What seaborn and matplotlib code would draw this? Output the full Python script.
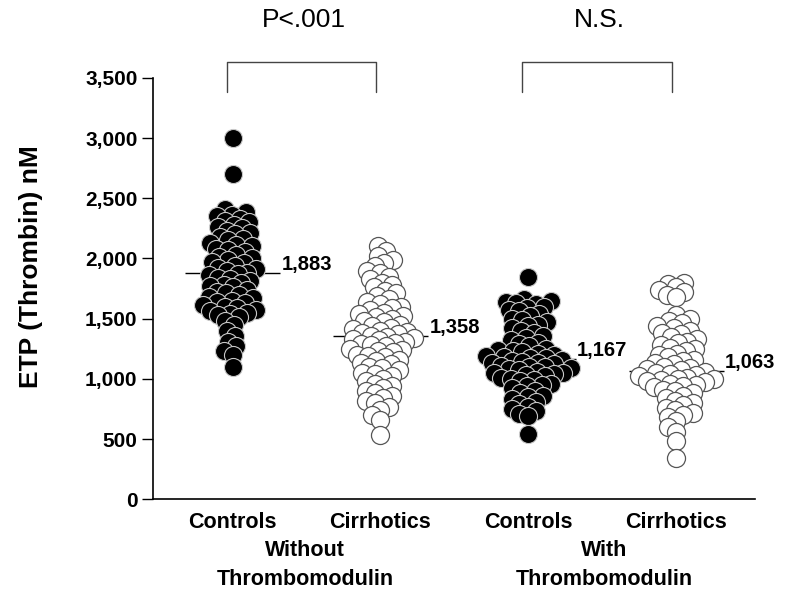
import numpy as np
import pandas as pd
import matplotlib
matplotlib.use("Agg")
import matplotlib.pyplot as plt
from matplotlib.ticker import FuncFormatter
import seaborn as sns

# ETP values (nM), one list per group
ctrl_without = [3000, 2700, 2410, 2390, 2360, 2350, 2330, 2310, 2300, 2280, 2260, 2250,
                2230, 2210, 2200, 2180, 2160, 2150, 2130, 2110, 2100, 2080, 2070, 2050,
                2030, 2010, 2000, 1990, 1970, 1960, 1940, 1920, 1910, 1900, 1880, 1870,
                1860, 1840, 1830, 1810, 1800, 1780, 1770, 1760, 1740, 1720, 1710, 1700,
                1680, 1670, 1650, 1640, 1630, 1610, 1600, 1590, 1570, 1560, 1550, 1540,
                1530, 1510, 1480, 1450, 1400, 1360, 1310, 1270, 1230, 1200, 1100]
cirr_without = [2100, 2060, 2020, 1990, 1960, 1940, 1900, 1880, 1850, 1830, 1800, 1780,
                1760, 1730, 1710, 1690, 1660, 1640, 1620, 1600, 1590, 1570, 1550, 1540,
                1520, 1510, 1500, 1480, 1470, 1450, 1440, 1420, 1410, 1400, 1390, 1380,
                1370, 1360, 1350, 1340, 1330, 1320, 1310, 1300, 1290, 1280, 1270, 1250,
                1240, 1230, 1220, 1200, 1190, 1180, 1160, 1150, 1130, 1120, 1100, 1090,
                1070, 1050, 1040, 1020, 1000, 980, 960, 940, 920, 900, 880, 860, 840,
                820, 800, 770, 740, 700, 660, 530]
ctrl_with = [1850, 1660, 1650, 1640, 1630, 1620, 1600, 1590, 1570, 1560, 1540, 1520,
             1500, 1490, 1470, 1450, 1440, 1420, 1400, 1380, 1360, 1340, 1320, 1300,
             1290, 1270, 1250, 1240, 1230, 1220, 1210, 1200, 1190, 1180, 1175, 1170,
             1160, 1150, 1140, 1135, 1130, 1120, 1110, 1100, 1095, 1090, 1080, 1070,
             1060, 1050, 1045, 1040, 1030, 1020, 1010, 1000, 990, 980, 960, 950, 940,
             920, 900, 880, 860, 850, 830, 810, 790, 770, 750, 730, 710, 690, 540]
cirr_with = [1800, 1790, 1760, 1740, 1720, 1700, 1680,
             1530, 1500, 1480, 1460, 1440, 1420, 1400, 1380, 1370, 1350, 1330, 1310,
             1300, 1280, 1260, 1250, 1230, 1210, 1200, 1180, 1160, 1150, 1130, 1120,
             1100, 1090, 1080, 1070, 1060, 1050, 1040, 1030, 1020, 1010, 1000, 995,
             990, 980, 970, 960, 950, 940, 930, 910, 900, 880, 860, 840, 820, 800,
             780, 760, 740, 720, 700, 680, 650, 600, 560, 480, 340]

group_keys = ["ctrl_wo", "cirr_wo", "ctrl_w", "cirr_w"]
tick_labels = ["Controls", "Cirrhotics", "Controls", "Cirrhotics"]
mean_values = [1883, 1358, 1167, 1063]
mean_labels = ["1,883", "1,358", "1,167", "1,063"]
pvalue_labels = ["P<.001", "N.S."]
condition_labels = ["Without\nThrombomodulin", "With\nThrombomodulin"]

df = pd.concat([
    pd.DataFrame({"group": "ctrl_wo", "etp": ctrl_without, "filled": True}),
    pd.DataFrame({"group": "cirr_wo", "etp": cirr_without, "filled": False}),
    pd.DataFrame({"group": "ctrl_w", "etp": ctrl_with, "filled": True}),
    pd.DataFrame({"group": "cirr_w", "etp": cirr_with, "filled": False}),
], ignore_index=True)

sns.set_style("ticks", {"text.color": "black", "axes.labelcolor": "black",
                        "xtick.color": "black", "ytick.color": "black",
                        "axes.edgecolor": "black"})
plt.rcParams["font.family"] = ["Liberation Sans", "DejaVu Sans"]

fig = plt.figure(figsize=(7.87, 5.95), dpi=100)
ax = fig.add_axes([0.194, 0.161, 0.765, 0.708])

# lay out the swarm with small markers, then enlarge them so they overlap like the original
sns.swarmplot(data=df[df["filled"]], x="group", y="etp", order=group_keys, ax=ax,
              size=5.6, color="black", edgecolor="#c8c8c8", linewidth=0.8)
sns.swarmplot(data=df[~df["filled"]], x="group", y="etp", order=group_keys, ax=ax,
              size=5.6, color="white", edgecolor="#555555", linewidth=0.9)
ax.set_xlim(-0.54, 3.53)
ax.set_ylim(0, 3500)
fig.canvas.draw()
for coll in ax.collections:
    if "draw" in coll.__dict__:
        del coll.draw
    coll.set_sizes([13 ** 2])

# mean lines and labels
for i, (m, lab) in enumerate(zip(mean_values, mean_labels)):
    ax.hlines(m, i - 0.32, i + 0.32, color="black", lw=1.0, zorder=1)
    ax.text(i + 0.33, m + 70, lab, fontsize=14.5, fontweight="bold", ha="left", va="center")

# significance brackets
for (a, b), lab in zip([(0, 1), (2, 3)], pvalue_labels):
    xs = [a - 0.04, a - 0.04, b - 0.03, b - 0.03]
    ys = [3385, 3635, 3635, 3385]
    ax.plot(xs, ys, color="#444444", lw=1.0, clip_on=False)
    ax.text((a + b) / 2 - 0.02, 3985, lab, fontsize=19, ha="center", va="center")

sns.despine(ax=ax)
ax.spines["left"].set_linewidth(1.2)
ax.spines["bottom"].set_linewidth(1.2)
ax.set_yticks(range(0, 3501, 500))
ax.yaxis.set_major_formatter(FuncFormatter(lambda v, p: f"{int(v):,}"))
ax.tick_params(axis="y", length=8, width=1.0, labelsize=15, pad=3)
ax.tick_params(axis="x", length=0, labelsize=15.5, pad=9)
ax.set_xticks(range(4))
ax.set_xticklabels(tick_labels)
for t in ax.get_xticklabels() + ax.get_yticklabels():
    t.set_fontweight("bold")
ax.set_xlabel("")
ax.set_ylabel("ETP (Thrombin) nM", fontsize=19, fontweight="bold")
ax.yaxis.set_label_coords(-0.183, 0.553)

for x, lab in zip([0.49, 2.51], condition_labels):
    ax.text(x, -0.156, lab, transform=ax.get_xaxis_transform(), fontsize=15.5,
            fontweight="bold", ha="center", va="center", linespacing=1.5)

fig.savefig("out.png", dpi=100)
